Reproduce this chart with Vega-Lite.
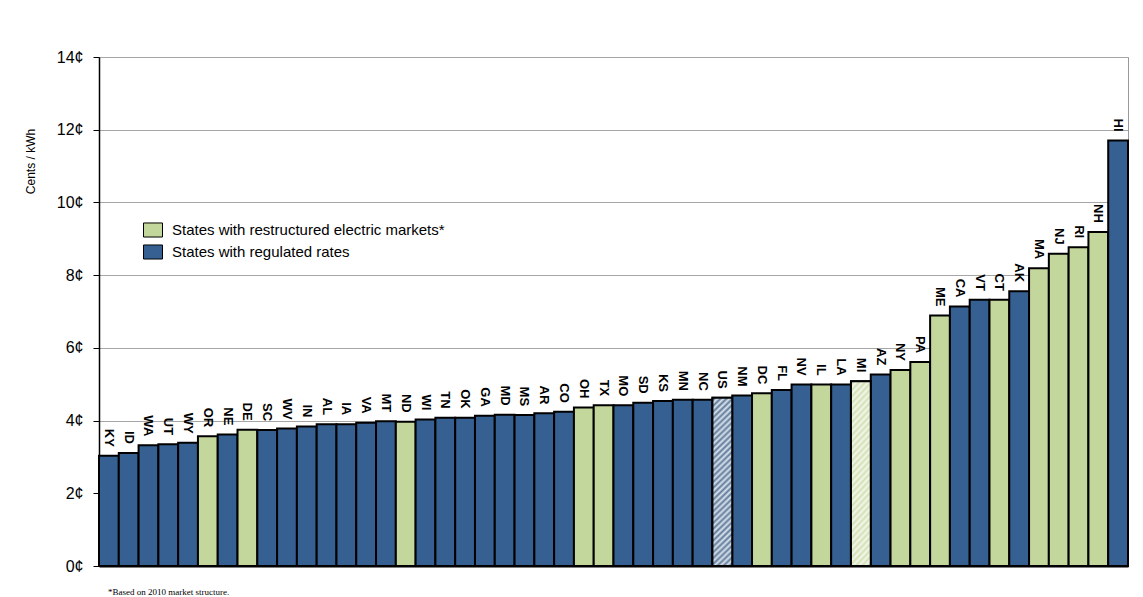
{
  "$schema": "https://vega.github.io/schema/vega-lite/v6.json",
  "width": 1029,
  "height": 509,
  "autosize": {"type": "none"},
  "padding": {"left": 99, "top": 57, "right": 15, "bottom": 31},
  "background": "white",
  "title": {"text": "*Based on 2010 market structure.", "orient": "bottom", "anchor": "start", "frame": "group", "font": "Liberation Serif", "fontSize": 9, "fontWeight": "normal", "color": "black", "offset": 14, "dx": 9},
  "config": {"view": {"stroke": "#999999", "strokeWidth": 1}, "font": "Liberation Sans"},
  "data": {"values": [
    {"state": "KY", "value": 3.03, "market": "regulated", "hatch": false},
    {"state": "ID", "value": 3.11, "market": "regulated", "hatch": false},
    {"state": "WA", "value": 3.32, "market": "regulated", "hatch": false},
    {"state": "UT", "value": 3.35, "market": "regulated", "hatch": false},
    {"state": "WY", "value": 3.39, "market": "regulated", "hatch": false},
    {"state": "OR", "value": 3.57, "market": "restructured", "hatch": false},
    {"state": "NE", "value": 3.62, "market": "regulated", "hatch": false},
    {"state": "DE", "value": 3.75, "market": "restructured", "hatch": false},
    {"state": "SC", "value": 3.74, "market": "regulated", "hatch": false},
    {"state": "WV", "value": 3.78, "market": "regulated", "hatch": false},
    {"state": "IN", "value": 3.84, "market": "regulated", "hatch": false},
    {"state": "AL", "value": 3.90, "market": "regulated", "hatch": false},
    {"state": "IA", "value": 3.90, "market": "regulated", "hatch": false},
    {"state": "VA", "value": 3.94, "market": "regulated", "hatch": false},
    {"state": "MT", "value": 3.98, "market": "regulated", "hatch": false},
    {"state": "ND", "value": 3.97, "market": "restructured", "hatch": false},
    {"state": "WI", "value": 4.03, "market": "regulated", "hatch": false},
    {"state": "TN", "value": 4.08, "market": "regulated", "hatch": false},
    {"state": "OK", "value": 4.08, "market": "regulated", "hatch": false},
    {"state": "GA", "value": 4.13, "market": "regulated", "hatch": false},
    {"state": "MD", "value": 4.16, "market": "regulated", "hatch": false},
    {"state": "MS", "value": 4.15, "market": "regulated", "hatch": false},
    {"state": "AR", "value": 4.20, "market": "regulated", "hatch": false},
    {"state": "CO", "value": 4.24, "market": "regulated", "hatch": false},
    {"state": "OH", "value": 4.36, "market": "restructured", "hatch": false},
    {"state": "TX", "value": 4.42, "market": "restructured", "hatch": false},
    {"state": "MO", "value": 4.42, "market": "regulated", "hatch": false},
    {"state": "SD", "value": 4.49, "market": "regulated", "hatch": false},
    {"state": "KS", "value": 4.54, "market": "regulated", "hatch": false},
    {"state": "MN", "value": 4.57, "market": "regulated", "hatch": false},
    {"state": "NC", "value": 4.57, "market": "regulated", "hatch": false},
    {"state": "US", "value": 4.63, "market": "regulated", "hatch": true},
    {"state": "NM", "value": 4.69, "market": "regulated", "hatch": false},
    {"state": "DC", "value": 4.75, "market": "restructured", "hatch": false},
    {"state": "FL", "value": 4.84, "market": "regulated", "hatch": false},
    {"state": "NV", "value": 4.99, "market": "regulated", "hatch": false},
    {"state": "IL", "value": 4.99, "market": "restructured", "hatch": false},
    {"state": "LA", "value": 4.99, "market": "regulated", "hatch": false},
    {"state": "MI", "value": 5.08, "market": "restructured", "hatch": true},
    {"state": "AZ", "value": 5.27, "market": "regulated", "hatch": false},
    {"state": "NY", "value": 5.39, "market": "restructured", "hatch": false},
    {"state": "PA", "value": 5.61, "market": "restructured", "hatch": false},
    {"state": "ME", "value": 6.89, "market": "restructured", "hatch": false},
    {"state": "CA", "value": 7.14, "market": "regulated", "hatch": false},
    {"state": "VT", "value": 7.32, "market": "regulated", "hatch": false},
    {"state": "CT", "value": 7.32, "market": "restructured", "hatch": false},
    {"state": "AK", "value": 7.56, "market": "regulated", "hatch": false},
    {"state": "MA", "value": 8.19, "market": "restructured", "hatch": false},
    {"state": "NJ", "value": 8.59, "market": "restructured", "hatch": false},
    {"state": "RI", "value": 8.77, "market": "restructured", "hatch": false},
    {"state": "NH", "value": 9.19, "market": "restructured", "hatch": false},
    {"state": "HI", "value": 11.70, "market": "regulated", "hatch": false}
  ]},
  "encoding": {
    "x": {"field": "state", "type": "nominal", "sort": null,
      "scale": {"paddingInner": 0, "paddingOuter": 0},
      "axis": {"labels": false, "ticks": false, "title": null, "domainColor": "black", "domainWidth": 2, "grid": false}}
  },
  "layer": [
    {
      "mark": {"type": "bar", "stroke": "black", "strokeWidth": 2},
      "encoding": {
        "y": {"field": "value", "type": "quantitative",
          "scale": {"domain": [0, 14]},
          "axis": {"title": "Cents / kWh", "titleFontSize": 12, "titleFontWeight": "normal", "titleColor": "black", "titleX": -69, "titleY": 104, "titleAngle": -90, "titleAlign": "center", "titleBaseline": "middle",
            "values": [0, 2, 4, 6, 8, 10, 12, 14], "labelExpr": "datum.value + '¢'", "labelFontSize": 16, "labelColor": "black", "labelPadding": 10,
            "tickSize": 6, "tickColor": "black", "domainColor": "black", "domainWidth": 1.5, "gridColor": "#A6A6A6", "gridWidth": 1}},
        "color": {"field": "market", "type": "nominal",
          "scale": {"domain": ["restructured", "regulated"], "range": ["#C3D69B", "#366092"]},
          "legend": {"orient": "none", "legendX": 44, "legendY": 163, "title": null,
            "symbolType": "M-1,-0.74H1V0.74H-1Z", "symbolSize": 361, "symbolStrokeColor": "black", "symbolStrokeWidth": 1,
            "labelFontSize": 15, "labelColor": "black", "labelFont": "Liberation Sans", "labelOffset": 9, "rowPadding": 2, "labelLimit": 500,
            "labelExpr": "datum.label === 'restructured' ? 'States with restructured electric markets*' : 'States with regulated rates'"}}
      }
    },
    {
      "transform": [{"filter": "datum.hatch"}],
      "mark": {"type": "bar", "stroke": "black", "strokeWidth": 2},
      "encoding": {
        "y": {"field": "value", "type": "quantitative"},
        "fill": {
          "condition": {"test": "datum.state === 'US'", "value": {"gradient": "linear", "x1": 0, "y1": 0, "x2": 0.125, "y2": 1.1, "stops": [
            {"offset": 0, "color": "#DCE3EC"}, {"offset": 0.015625, "color": "#5F7B9C"}, {"offset": 0.03125, "color": "#DCE3EC"}, {"offset": 0.046875, "color": "#5F7B9C"},
            {"offset": 0.0625, "color": "#DCE3EC"}, {"offset": 0.078125, "color": "#5F7B9C"}, {"offset": 0.09375, "color": "#DCE3EC"}, {"offset": 0.109375, "color": "#5F7B9C"},
            {"offset": 0.125, "color": "#DCE3EC"}, {"offset": 0.140625, "color": "#5F7B9C"}, {"offset": 0.15625, "color": "#DCE3EC"}, {"offset": 0.171875, "color": "#5F7B9C"},
            {"offset": 0.1875, "color": "#DCE3EC"}, {"offset": 0.203125, "color": "#5F7B9C"}, {"offset": 0.21875, "color": "#DCE3EC"}, {"offset": 0.234375, "color": "#5F7B9C"},
            {"offset": 0.25, "color": "#DCE3EC"}, {"offset": 0.265625, "color": "#5F7B9C"}, {"offset": 0.28125, "color": "#DCE3EC"}, {"offset": 0.296875, "color": "#5F7B9C"},
            {"offset": 0.3125, "color": "#DCE3EC"}, {"offset": 0.328125, "color": "#5F7B9C"}, {"offset": 0.34375, "color": "#DCE3EC"}, {"offset": 0.359375, "color": "#5F7B9C"},
            {"offset": 0.375, "color": "#DCE3EC"}, {"offset": 0.390625, "color": "#5F7B9C"}, {"offset": 0.40625, "color": "#DCE3EC"}, {"offset": 0.421875, "color": "#5F7B9C"},
            {"offset": 0.4375, "color": "#DCE3EC"}, {"offset": 0.453125, "color": "#5F7B9C"}, {"offset": 0.46875, "color": "#DCE3EC"}, {"offset": 0.484375, "color": "#5F7B9C"},
            {"offset": 0.5, "color": "#DCE3EC"}, {"offset": 0.515625, "color": "#5F7B9C"}, {"offset": 0.53125, "color": "#DCE3EC"}, {"offset": 0.546875, "color": "#5F7B9C"},
            {"offset": 0.5625, "color": "#DCE3EC"}, {"offset": 0.578125, "color": "#5F7B9C"}, {"offset": 0.59375, "color": "#DCE3EC"}, {"offset": 0.609375, "color": "#5F7B9C"},
            {"offset": 0.625, "color": "#DCE3EC"}, {"offset": 0.640625, "color": "#5F7B9C"}, {"offset": 0.65625, "color": "#DCE3EC"}, {"offset": 0.671875, "color": "#5F7B9C"},
            {"offset": 0.6875, "color": "#DCE3EC"}, {"offset": 0.703125, "color": "#5F7B9C"}, {"offset": 0.71875, "color": "#DCE3EC"}, {"offset": 0.734375, "color": "#5F7B9C"},
            {"offset": 0.75, "color": "#DCE3EC"}, {"offset": 0.765625, "color": "#5F7B9C"}, {"offset": 0.78125, "color": "#DCE3EC"}, {"offset": 0.796875, "color": "#5F7B9C"},
            {"offset": 0.8125, "color": "#DCE3EC"}, {"offset": 0.828125, "color": "#5F7B9C"}, {"offset": 0.84375, "color": "#DCE3EC"}, {"offset": 0.859375, "color": "#5F7B9C"},
            {"offset": 0.875, "color": "#DCE3EC"}, {"offset": 0.890625, "color": "#5F7B9C"}, {"offset": 0.90625, "color": "#DCE3EC"}, {"offset": 0.921875, "color": "#5F7B9C"},
            {"offset": 0.9375, "color": "#DCE3EC"}, {"offset": 0.953125, "color": "#5F7B9C"}, {"offset": 0.96875, "color": "#DCE3EC"}, {"offset": 0.984375, "color": "#5F7B9C"},
            {"offset": 1, "color": "#DCE3EC"}
          ]}},
          "value": {"gradient": "linear", "x1": 0, "y1": 0, "x2": 0.125, "y2": 1.1, "stops": [
            {"offset": 0, "color": "#F4F7EC"}, {"offset": 0.015625, "color": "#D3E0B4"}, {"offset": 0.03125, "color": "#F4F7EC"}, {"offset": 0.046875, "color": "#D3E0B4"},
            {"offset": 0.0625, "color": "#F4F7EC"}, {"offset": 0.078125, "color": "#D3E0B4"}, {"offset": 0.09375, "color": "#F4F7EC"}, {"offset": 0.109375, "color": "#D3E0B4"},
            {"offset": 0.125, "color": "#F4F7EC"}, {"offset": 0.140625, "color": "#D3E0B4"}, {"offset": 0.15625, "color": "#F4F7EC"}, {"offset": 0.171875, "color": "#D3E0B4"},
            {"offset": 0.1875, "color": "#F4F7EC"}, {"offset": 0.203125, "color": "#D3E0B4"}, {"offset": 0.21875, "color": "#F4F7EC"}, {"offset": 0.234375, "color": "#D3E0B4"},
            {"offset": 0.25, "color": "#F4F7EC"}, {"offset": 0.265625, "color": "#D3E0B4"}, {"offset": 0.28125, "color": "#F4F7EC"}, {"offset": 0.296875, "color": "#D3E0B4"},
            {"offset": 0.3125, "color": "#F4F7EC"}, {"offset": 0.328125, "color": "#D3E0B4"}, {"offset": 0.34375, "color": "#F4F7EC"}, {"offset": 0.359375, "color": "#D3E0B4"},
            {"offset": 0.375, "color": "#F4F7EC"}, {"offset": 0.390625, "color": "#D3E0B4"}, {"offset": 0.40625, "color": "#F4F7EC"}, {"offset": 0.421875, "color": "#D3E0B4"},
            {"offset": 0.4375, "color": "#F4F7EC"}, {"offset": 0.453125, "color": "#D3E0B4"}, {"offset": 0.46875, "color": "#F4F7EC"}, {"offset": 0.484375, "color": "#D3E0B4"},
            {"offset": 0.5, "color": "#F4F7EC"}, {"offset": 0.515625, "color": "#D3E0B4"}, {"offset": 0.53125, "color": "#F4F7EC"}, {"offset": 0.546875, "color": "#D3E0B4"},
            {"offset": 0.5625, "color": "#F4F7EC"}, {"offset": 0.578125, "color": "#D3E0B4"}, {"offset": 0.59375, "color": "#F4F7EC"}, {"offset": 0.609375, "color": "#D3E0B4"},
            {"offset": 0.625, "color": "#F4F7EC"}, {"offset": 0.640625, "color": "#D3E0B4"}, {"offset": 0.65625, "color": "#F4F7EC"}, {"offset": 0.671875, "color": "#D3E0B4"},
            {"offset": 0.6875, "color": "#F4F7EC"}, {"offset": 0.703125, "color": "#D3E0B4"}, {"offset": 0.71875, "color": "#F4F7EC"}, {"offset": 0.734375, "color": "#D3E0B4"},
            {"offset": 0.75, "color": "#F4F7EC"}, {"offset": 0.765625, "color": "#D3E0B4"}, {"offset": 0.78125, "color": "#F4F7EC"}, {"offset": 0.796875, "color": "#D3E0B4"},
            {"offset": 0.8125, "color": "#F4F7EC"}, {"offset": 0.828125, "color": "#D3E0B4"}, {"offset": 0.84375, "color": "#F4F7EC"}, {"offset": 0.859375, "color": "#D3E0B4"},
            {"offset": 0.875, "color": "#F4F7EC"}, {"offset": 0.890625, "color": "#D3E0B4"}, {"offset": 0.90625, "color": "#F4F7EC"}, {"offset": 0.921875, "color": "#D3E0B4"},
            {"offset": 0.9375, "color": "#F4F7EC"}, {"offset": 0.953125, "color": "#D3E0B4"}, {"offset": 0.96875, "color": "#F4F7EC"}, {"offset": 0.984375, "color": "#D3E0B4"},
            {"offset": 1, "color": "#F4F7EC"}
          ]}
        }
      }
    },
    {
      "mark": {"type": "text", "angle": 90, "align": "right", "baseline": "middle", "dx": -9, "fontSize": 13, "fontWeight": "bold", "font": "Liberation Sans", "color": "black"},
      "encoding": {
        "y": {"field": "value", "type": "quantitative"},
        "text": {"field": "state"}
      }
    }
  ]
}
